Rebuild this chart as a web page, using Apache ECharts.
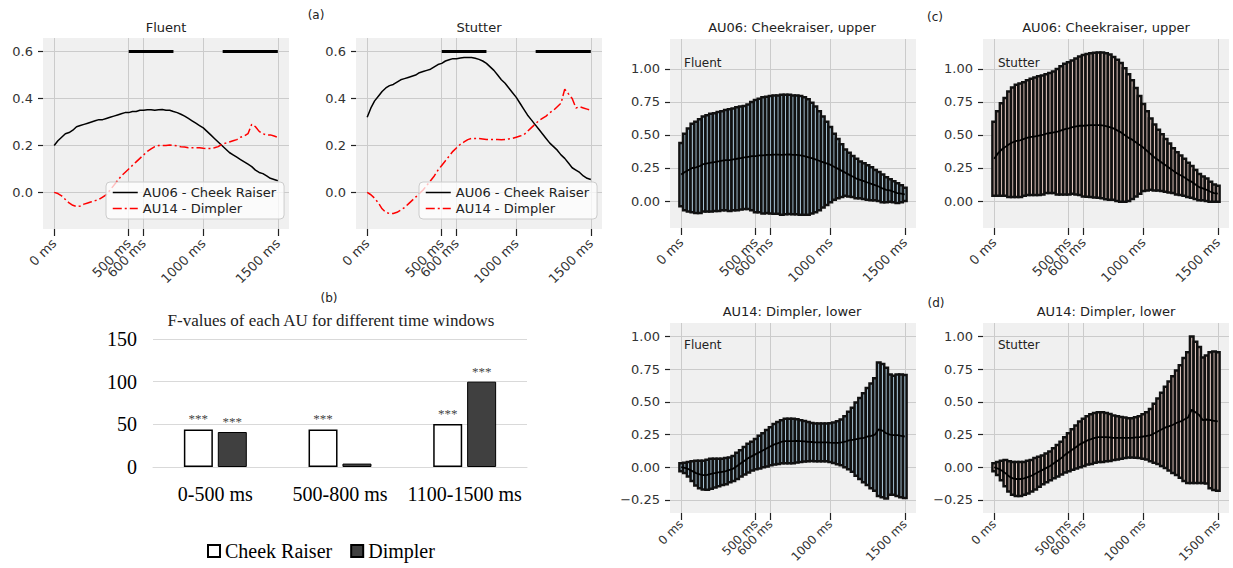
<!DOCTYPE html>
<html>
<head>
<meta charset="utf-8">
<title>AU06 / AU14 time course, Fluent vs Stutter</title>
<script src="https://cdn.jsdelivr.net/npm/echarts@6/dist/echarts.min.js"></script>
<style>
  html, body { margin: 0; padding: 0; background: #fff; }
  #chart { width: 1233px; height: 568px; }
</style>
</head>
<body>
<div id="chart"></div>
<script>
// sample times (ms) shared by all time-course panels
const timeMs = [
  0, 25, 50, 75, 100, 125, 150, 175, 200, 225,
  250, 275, 300, 325, 350, 375, 400, 425, 450, 475,
  500, 525, 550, 575, 600, 625, 650, 675, 700, 725,
  750, 775, 800, 825, 850, 875, 900, 925, 950, 975,
  1000, 1025, 1050, 1075, 1100, 1125, 1150, 1175, 1200, 1225,
  1250, 1275, 1300, 1325, 1350, 1375, 1400, 1425, 1450, 1475,
  1500
]
const msTicks = [0, 500, 600, 1000, 1500]

// AU06 cheek raiser
const au06FluentMean = [
  0.20, 0.22, 0.235, 0.25, 0.255, 0.265, 0.28, 0.285, 0.29, 0.295,
  0.30, 0.305, 0.31, 0.31, 0.315, 0.32, 0.325, 0.33, 0.335, 0.34,
  0.34, 0.345, 0.345, 0.35, 0.35, 0.352, 0.352, 0.35, 0.352, 0.353,
  0.35, 0.35, 0.345, 0.34, 0.333, 0.325, 0.315, 0.305, 0.295, 0.285,
  0.275, 0.26, 0.245, 0.23, 0.215, 0.20, 0.185, 0.17, 0.16, 0.15,
  0.14, 0.13, 0.12, 0.11, 0.095, 0.085, 0.08, 0.07, 0.06, 0.055,
  0.05
]
const au06FluentSd = [
  0.24, 0.29, 0.315, 0.335, 0.345, 0.355, 0.36, 0.365, 0.37, 0.37,
  0.375, 0.375, 0.38, 0.385, 0.385, 0.39, 0.39, 0.39, 0.395, 0.41,
  0.425, 0.43, 0.44, 0.44, 0.445, 0.448, 0.448, 0.455, 0.453, 0.452,
  0.45, 0.45, 0.45, 0.445, 0.437, 0.42, 0.40, 0.375, 0.345, 0.315,
  0.285, 0.25, 0.225, 0.20, 0.175, 0.165, 0.155, 0.15, 0.14, 0.135,
  0.13, 0.125, 0.115, 0.11, 0.105, 0.095, 0.085, 0.08, 0.075, 0.065,
  0.05
]
const au06StutterMean = [
  0.32, 0.36, 0.39, 0.41, 0.43, 0.445, 0.455, 0.46, 0.47, 0.48,
  0.485, 0.49, 0.495, 0.50, 0.51, 0.515, 0.52, 0.525, 0.535, 0.545,
  0.55, 0.56, 0.565, 0.57, 0.57, 0.573, 0.575, 0.575, 0.575, 0.572,
  0.567, 0.56, 0.55, 0.535, 0.52, 0.50, 0.48, 0.465, 0.445, 0.425,
  0.405, 0.38, 0.355, 0.33, 0.31, 0.29, 0.27, 0.25, 0.23, 0.21,
  0.195, 0.18, 0.16, 0.145, 0.125, 0.105, 0.095, 0.085, 0.07, 0.06,
  0.055
]
const au06StutterSd = [
  0.28, 0.32, 0.35, 0.37, 0.40, 0.415, 0.425, 0.43, 0.43, 0.435,
  0.44, 0.445, 0.45, 0.45, 0.45, 0.455, 0.46, 0.475, 0.485, 0.495,
  0.50, 0.505, 0.515, 0.525, 0.535, 0.54, 0.545, 0.548, 0.55, 0.552,
  0.553, 0.55, 0.54, 0.535, 0.525, 0.505, 0.48, 0.45, 0.41, 0.37,
  0.33, 0.30, 0.27, 0.25, 0.23, 0.215, 0.20, 0.185, 0.17, 0.16,
  0.15, 0.14, 0.13, 0.12, 0.11, 0.10, 0.09, 0.085, 0.075, 0.065,
  0.06
]

// AU14 dimpler
const au14FluentMean = [
  0, -0.005, -0.015, -0.03, -0.045, -0.055, -0.06, -0.058, -0.05, -0.045,
  -0.04, -0.035, -0.03, -0.02, -0.01, 0.01, 0.03, 0.05, 0.07, 0.085,
  0.10, 0.115, 0.13, 0.145, 0.16, 0.175, 0.185, 0.195, 0.20, 0.20,
  0.20, 0.202, 0.20, 0.198, 0.195, 0.193, 0.19, 0.19, 0.19, 0.19,
  0.188, 0.187, 0.187, 0.19, 0.195, 0.205, 0.21, 0.215, 0.22, 0.225,
  0.235, 0.24, 0.25, 0.29, 0.28, 0.26, 0.25, 0.245, 0.245, 0.24,
  0.235
]
const au14FluentSd = [
  0.03, 0.04, 0.055, 0.075, 0.095, 0.105, 0.11, 0.115, 0.115, 0.11,
  0.105, 0.10, 0.10, 0.095, 0.095, 0.10, 0.10, 0.105, 0.11, 0.11,
  0.115, 0.125, 0.13, 0.14, 0.145, 0.155, 0.16, 0.165, 0.17, 0.17,
  0.17, 0.165, 0.16, 0.155, 0.15, 0.145, 0.145, 0.145, 0.145, 0.145,
  0.148, 0.155, 0.165, 0.175, 0.195, 0.22, 0.245, 0.28, 0.31, 0.34,
  0.37, 0.40, 0.43, 0.51, 0.51, 0.50, 0.46, 0.455, 0.465, 0.47,
  0.47
]
const au14StutterMean = [
  0, -0.01, -0.025, -0.045, -0.07, -0.085, -0.09, -0.09, -0.085, -0.075,
  -0.065, -0.05, -0.035, -0.02, -0.005, 0.01, 0.03, 0.05, 0.07, 0.095,
  0.115, 0.135, 0.155, 0.175, 0.19, 0.205, 0.215, 0.225, 0.23, 0.23,
  0.23, 0.228, 0.225, 0.225, 0.225, 0.225, 0.224, 0.225, 0.228, 0.23,
  0.235, 0.24, 0.245, 0.26, 0.275, 0.29, 0.305, 0.315, 0.325, 0.34,
  0.35, 0.365, 0.38, 0.44, 0.42, 0.40, 0.36, 0.365, 0.36, 0.355,
  0.35
]
const au14StutterSd = [
  0.03, 0.05, 0.075, 0.10, 0.115, 0.125, 0.13, 0.13, 0.125, 0.125,
  0.12, 0.12, 0.115, 0.11, 0.11, 0.11, 0.115, 0.12, 0.125, 0.135,
  0.145, 0.155, 0.165, 0.175, 0.18, 0.185, 0.19, 0.19, 0.19, 0.19,
  0.185, 0.18, 0.17, 0.165, 0.16, 0.155, 0.15, 0.15, 0.155, 0.16,
  0.17, 0.18, 0.20, 0.225, 0.25, 0.28, 0.31, 0.34, 0.37, 0.40,
  0.43, 0.47, 0.50, 0.56, 0.54, 0.52, 0.48, 0.49, 0.52, 0.53,
  0.53
]

// significant windows drawn as black bars in (a)
const sigWindows = [[500, 800], [1130, 1500]]
const sigLevel = 0.6

// (b) F-values
const windowLabels = ['0-500 ms', '500-800 ms', '1100-1500 ms']
const cheekRaiserF = [44, 44, 50.5]
const dimplerF = [41, 4, 100]
const cheekRaiserStars = ['***', '***', '***']
const dimplerStars = ['***', '', '***']

const SANS = 'DejaVu Sans'
const SERIF = 'Liberation Serif'
const GRID_BG = '#f0f0f0'
const GRID_LINE = '#cbcbcb'
const TICK_COLOR = '#222'
const LABEL_COLOR = '#333'
const DASH_DOT = [9, 3, 2, 3]
const STEP = timeMs[1] - timeMs[0]

function pairs(values) {
  return timeMs.map((t, i) => [t, values[i]])
}

function errRows(means, sds) {
  return timeMs.map((t, i) => [t, means[i], sds[i]])
}

function msAxis(gridIndex, fontSize, margin) {
  return {
    type: 'value',
    gridIndex,
    min: -75,
    max: 1575,
    axisLine: { show: false, onZero: false },
    axisTick: { show: true, customValues: msTicks, length: 7, lineStyle: { color: TICK_COLOR, width: 1.2 } },
    axisLabel: {
      customValues: msTicks,
      rotate: 45,
      margin: margin || 12,
      color: LABEL_COLOR,
      fontFamily: SANS,
      fontSize: fontSize || 13,
      formatter: (v) => v + ' ms',
    },
    splitLine: { show: true, lineStyle: { color: GRID_LINE, width: 1 } },
  }
}

function valueAxis(gridIndex, min, max, ticks, digits) {
  return {
    type: 'value',
    gridIndex,
    min,
    max,
    axisLine: { show: false, onZero: false },
    axisTick: { show: true, customValues: ticks, length: 5, lineStyle: { color: TICK_COLOR, width: 1.2 } },
    axisLabel: {
      customValues: ticks,
      margin: 10,
      color: LABEL_COLOR,
      fontFamily: SANS,
      fontSize: 13,
      formatter: (v) => v.toFixed(digits).replace('-', '\u2212'),
    },
    splitLine: { show: true, lineStyle: { color: GRID_LINE, width: 1 } },
  }
}

function renderErrBar(params, api) {
  const t = api.value(0)
  const m = api.value(1)
  const s = api.value(2)
  const hi = api.coord([t, m + s])
  const lo = api.coord([t, m - s])
  const w = api.size([STEP, 0])[0] * 0.95
  return {
    type: 'rect',
    shape: { x: hi[0] - w / 2, y: hi[1], width: w, height: lo[1] - hi[1] },
    style: { fill: api.visual('color'), stroke: '#111', lineWidth: 2.5 },
  }
}

function errPanel(axisIndex, means, sds, fill) {
  return [
    {
      type: 'custom',
      xAxisIndex: axisIndex,
      yAxisIndex: axisIndex,
      renderItem: renderErrBar,
      itemStyle: { color: fill },
      encode: { x: 0, y: 1 },
      data: errRows(means, sds),
      z: 2,
    },
    {
      type: 'line',
      xAxisIndex: axisIndex,
      yAxisIndex: axisIndex,
      data: pairs(means),
      symbol: 'none',
      lineStyle: { color: '#000', width: 1.8 },
      z: 3,
    },
  ]
}

function linePanel(axisIndex, au06, au14) {
  const out = [
    {
      type: 'line',
      name: 'AU06 - Cheek Raiser',
      xAxisIndex: axisIndex,
      yAxisIndex: axisIndex,
      data: pairs(au06),
      symbol: 'none',
      itemStyle: { color: '#000' },
      lineStyle: { color: '#000', width: 1.5 },
    },
    {
      type: 'line',
      name: 'AU14 - Dimpler',
      xAxisIndex: axisIndex,
      yAxisIndex: axisIndex,
      data: pairs(au14),
      symbol: 'none',
      itemStyle: { color: '#ff0000' },
      lineStyle: { color: '#ff0000', width: 1.5, type: DASH_DOT },
    },
  ]
  sigWindows.forEach((w) => {
    out.push({
      type: 'line',
      xAxisIndex: axisIndex,
      yAxisIndex: axisIndex,
      data: [[w[0], sigLevel], [w[1], sigLevel]],
      symbol: 'none',
      lineStyle: { color: '#000', width: 3 },
    })
  })
  return out
}

function label(text, x, y, size, family, align) {
  return {
    type: 'text',
    x,
    y,
    silent: true,
    style: {
      text,
      fill: '#222',
      font: size + 'px "' + family + '"',
      align: align || 'center',
      textAlign: align || 'center',
      verticalAlign: 'middle',
      textVerticalAlign: 'middle',
    },
  }
}

const lineLegend = (left) => ({
  data: [
    { name: 'AU06 - Cheek Raiser', lineStyle: { color: '#000', width: 1.5, type: 'solid' } },
    { name: 'AU14 - Dimpler', lineStyle: { color: '#ff0000', width: 1.5, type: DASH_DOT } },
  ],
  orient: 'vertical',
  left,
  top: 182,
  padding: [4, 8, 4, 6],
  itemWidth: 25,
  itemHeight: 14,
  itemGap: 3,
  selectedMode: false,
  itemStyle: { opacity: 0 },
  backgroundColor: 'rgba(255,255,255,0.75)',
  borderColor: '#cccccc',
  borderWidth: 1,
  borderRadius: 4,
  textStyle: { fontFamily: SANS, fontSize: 13, color: '#222' },
})

const chart = echarts.init(document.getElementById('chart'), null, { renderer: 'svg' })

const gridBase = { show: true, backgroundColor: GRID_BG, borderWidth: 0, containLabel: false, outerBoundsMode: 'none' }

chart.setOption({
  animation: false,
  backgroundColor: '#fff',
  grid: [
    { ...gridBase, left: 43, top: 38, width: 246, height: 191 },
    { ...gridBase, left: 356, top: 38, width: 246, height: 191 },
    { ...gridBase, show: false, left: 153, top: 339, width: 374, height: 128 },
    { ...gridBase, left: 670, top: 39, width: 246, height: 189 },
    { ...gridBase, left: 983, top: 39, width: 246, height: 189 },
    { ...gridBase, left: 670, top: 323, width: 246, height: 190 },
    { ...gridBase, left: 983, top: 323, width: 246, height: 190 },
  ],
  xAxis: [
    msAxis(0),
    msAxis(1),
    {
      type: 'category',
      gridIndex: 2,
      data: windowLabels,
      axisLine: { show: true, lineStyle: { color: '#d9d9d9', width: 1 } },
      axisTick: { show: false },
      axisLabel: { interval: 0, fontFamily: SERIF, fontSize: 20, color: '#000', margin: 17 },
    },
    msAxis(3),
    msAxis(4),
    msAxis(5, 12, 9),
    msAxis(6, 12, 9),
  ],
  yAxis: [
    valueAxis(0, -0.156, 0.658, [0, 0.2, 0.4, 0.6], 1),
    valueAxis(1, -0.156, 0.658, [0, 0.2, 0.4, 0.6], 1),
    {
      type: 'value',
      gridIndex: 2,
      min: 0,
      max: 150,
      interval: 50,
      axisLine: { show: false },
      axisTick: { show: false },
      axisLabel: { fontFamily: SERIF, fontSize: 20, color: '#000', margin: 16 },
      splitLine: { show: true, lineStyle: { color: '#d9d9d9', width: 1 } },
    },
    valueAxis(3, -0.2045, 1.227, [0, 0.25, 0.5, 0.75, 1], 2),
    valueAxis(4, -0.2045, 1.227, [0, 0.25, 0.5, 0.75, 1], 2),
    valueAxis(5, -0.35, 1.103, [-0.25, 0, 0.25, 0.5, 0.75, 1], 2),
    valueAxis(6, -0.35, 1.103, [-0.25, 0, 0.25, 0.5, 0.75, 1], 2),
  ],
  legend: [
    lineLegend(106),
    lineLegend(419),
    {
      data: ['Cheek Raiser', 'Dimpler'],
      left: 207,
      top: 541,
      padding: 0,
      icon: 'rect',
      itemWidth: 12,
      itemHeight: 12,
      itemGap: 18,
      selectedMode: false,
      textStyle: { fontFamily: SERIF, fontSize: 20, color: '#000' },
    },
  ],
  graphic: [
    label('Fluent', 166, 27, 13, SANS),
    label('Stutter', 479, 27, 13, SANS),
    label('(a)', 316, 15, 12, SANS),
    label('(b)', 329, 298, 12, SANS),
    label('F-values of each AU for different time windows', 331, 320, 17, SERIF),
    label('AU06: Cheekraiser, upper', 792, 27, 13, SANS),
    label('AU06: Cheekraiser, upper', 1106, 27, 13, SANS),
    label('AU14: Dimpler, lower', 792, 311, 13, SANS),
    label('AU14: Dimpler, lower', 1106, 311, 13, SANS),
    label('(c)', 935, 17, 12, SANS),
    label('(d)', 936, 303, 12, SANS),
    label('Fluent', 684, 63, 12, SANS, 'left'),
    label('Stutter', 998, 63, 12, SANS, 'left'),
    label('Fluent', 684, 345, 12, SANS, 'left'),
    label('Stutter', 998, 345, 12, SANS, 'left'),
  ],
  series: [
    ...linePanel(0, au06FluentMean, au14FluentMean),
    ...linePanel(1, au06StutterMean, au14StutterMean),
    {
      type: 'bar',
      name: 'Cheek Raiser',
      xAxisIndex: 2,
      yAxisIndex: 2,
      data: cheekRaiserF,
      barWidth: 29,
      barGap: '17%',
      itemStyle: { color: '#ffffff', borderColor: '#000', borderWidth: 1.5 },
      label: {
        show: true,
        position: 'top',
        distance: 4,
        fontFamily: SERIF,
        fontSize: 13,
        color: '#444',
        formatter: (p) => cheekRaiserStars[p.dataIndex],
      },
    },
    {
      type: 'bar',
      name: 'Dimpler',
      xAxisIndex: 2,
      yAxisIndex: 2,
      data: dimplerF,
      barWidth: 29,
      barGap: '17%',
      itemStyle: { color: '#404040', borderColor: '#000', borderWidth: 1 },
      label: {
        show: true,
        position: 'top',
        distance: 4,
        fontFamily: SERIF,
        fontSize: 13,
        color: '#444',
        formatter: (p) => dimplerStars[p.dataIndex],
      },
    },
    ...errPanel(3, au06FluentMean, au06FluentSd, '#a9c6d8'),
    ...errPanel(4, au06StutterMean, au06StutterSd, '#e6cbc3'),
    ...errPanel(5, au14FluentMean, au14FluentSd, '#a9c6d8'),
    ...errPanel(6, au14StutterMean, au14StutterSd, '#e6cbc3'),
  ],
})
</script>
</body>
</html>
